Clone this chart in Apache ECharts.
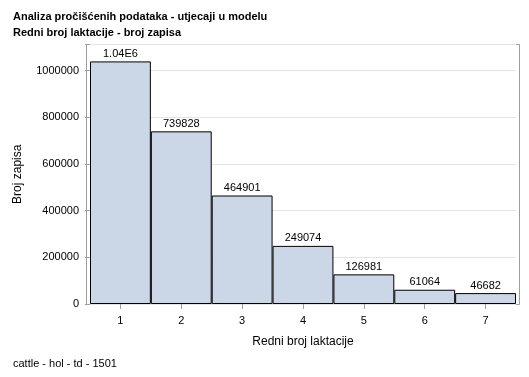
<!DOCTYPE html>
<html>
<head>
<meta charset="UTF-8">
<title>Redni broj laktacije</title>
<script src="https://cdn.jsdelivr.net/npm/echarts@6/dist/echarts.min.js"></script>
<style>
body{margin:0;background:#fff;}
#chart{width:529px;height:377px;}
</style>
</head>
<body>
<div id="chart"></div>
<script type="text/javascript">
var categories=['1','2','3','4','5','6','7'];
var values=[1039500,739828,464901,249074,126981,61064,46682];
var yTicks=[0,200000,400000,600000,800000,1000000];

var font='"Liberation Sans", Arial, sans-serif';
var mychart=echarts.init(document.getElementById('chart'));
// okvir grafa (siva linija oko podrucja crtanja)
var option={
	animation:false,
	backgroundColor:'#fff',
	title:[{
		text:'Analiza pročišćenih podataka - utjecaji u modelu\nRedni broj laktacije - broj zapisa',
		left:8,top:4,
		textStyle:{fontFamily:font,fontSize:11,fontWeight:'bold',color:'#000',lineHeight:16}
	},{
		text:'cattle - hol - td - 1501',
		left:8,top:353,
		textStyle:{fontFamily:font,fontSize:11,fontWeight:'normal',color:'#000'}
	}],
	graphic:[{
		type:'rect',
		shape:{x:86.5,y:44.5,width:433,height:260},
		style:{fill:'none',stroke:'#9a9fa6',lineWidth:1},
		z:0
	}],
	grid:{left:90,right:13,top:44.5,bottom:73},
	xAxis:{
		type:'category',
		data:categories,
		boundaryGap:true,
		name:'Redni broj laktacije',
		nameLocation:'middle',
		nameGap:32,
		nameTextStyle:{fontFamily:font,fontSize:12,color:'#000'},
		axisLine:{show:false},
		axisTick:{show:true,alignWithLabel:true,length:5,lineStyle:{color:'#9a9fa6'}},
		axisLabel:{fontFamily:font,fontSize:11,color:'#000',margin:11}
	},
	yAxis:{
		type:'value',
		min:0,
		max:1112000,
		interval:200000,
		name:'Broj zapisa',
		nameLocation:'middle',
		nameGap:66,
		nameTextStyle:{fontFamily:font,fontSize:12,color:'#000'},
		axisLine:{show:false},
		axisTick:{show:true,length:5,lineStyle:{color:'#9a9fa6'}},
		axisLabel:{
			fontFamily:font,fontSize:11,color:'#000',margin:11,
			formatter:function(v){return yTicks.indexOf(v)>=0?String(v):'';}
		},
		splitLine:{show:true,lineStyle:{color:'#e4e4e4'}}
	},
	series:[{
		type:'bar',
		data:values,
		barCategoryGap:0,
		itemStyle:{color:'#cbd6e6',borderColor:'#000',borderWidth:1},
		label:{
			show:true,position:'top',distance:2,
			fontFamily:font,fontSize:11,color:'#000',
			formatter:function(p){
				if(p.value>=1000000){return (p.value/1000000).toFixed(2)+'E6';}
				return String(p.value);
			}
		}
	}]
};
mychart.setOption(option);
</script>
</body>
</html>
